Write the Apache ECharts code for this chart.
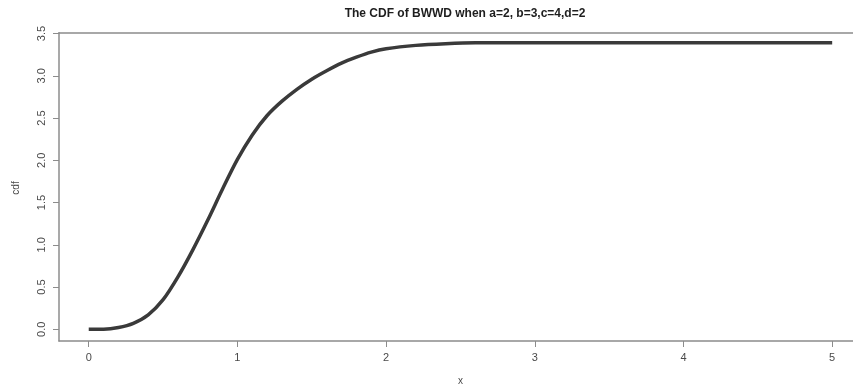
<!DOCTYPE html>
<html>
<head>
<meta charset="utf-8">
<script src="https://cdn.jsdelivr.net/npm/echarts@6/dist/echarts.min.js"></script>
<style>
  html, body { margin: 0; padding: 0; background: #fff; }
  #chart { width: 853px; height: 389px; }
</style>
</head>
<body>
<div id="chart"></div>
<script>
// values (x, cdf)
const xs = [0, 0.1, 0.2, 0.3, 0.4, 0.5, 0.6, 0.7, 0.8, 0.9, 1.0, 1.1, 1.2, 1.3, 1.4, 1.5,
  1.6, 1.7, 1.8, 1.9, 2.0, 2.2, 2.4, 2.6, 3.0, 3.5, 4.0, 4.5, 5.0]
const cdf = [0, 0.0, 0.02, 0.07, 0.17, 0.35, 0.62, 0.94, 1.29, 1.66, 2.01, 2.30, 2.53, 2.70,
  2.84, 2.96, 3.06, 3.15, 3.22, 3.28, 3.32, 3.36, 3.38, 3.39, 3.39, 3.39, 3.39, 3.39, 3.39]
const xTicks = [0, 1, 2, 3, 4, 5]
const yTicks = [0, 0.5, 1, 1.5, 2, 2.5, 3, 3.5]

const AXIS = '#8c8c8c'
const TEXT = '#4a4a4a'
const FONT = '"Liberation Sans", Arial, sans-serif'

const chart = echarts.init(document.getElementById('chart'), null, { renderer: 'canvas' })

// plot box runs off the right edge of the picture, so only left/top/bottom lines
const line = { show: true, onZero: false, lineStyle: { color: AXIS, width: 1.5 } }

chart.setOption({
  animation: false,
  backgroundColor: '#fff',
  textStyle: { fontFamily: FONT },
  title: {
    text: 'The CDF of BWWD when a=2, b=3,c=4,d=2',
    left: 460,
    top: 3,
    textAlign: 'center',
    textStyle: { fontSize: 12, fontWeight: 'bold', color: '#1e1e1e', fontFamily: FONT },
  },
  grid: { left: 59, top: 32.7, right: 0, bottom: 48, show: false },
  xAxis: [
    {
      type: 'value',
      min: -0.2, max: 5.14,
      axisLine: line,
      axisTick: { show: true, length: 6, customValues: xTicks, lineStyle: { color: AXIS } },
      axisLabel: {
        customValues: xTicks, margin: 11, fontSize: 11, color: TEXT,
        formatter: (v) => String(v),
      },
      splitLine: { show: false },
    },
    {
      type: 'value', position: 'top',
      min: -0.2, max: 5.14,
      axisLine: line,
      axisTick: { show: false },
      axisLabel: { show: false },
      splitLine: { show: false },
    },
  ],
  yAxis: {
    type: 'value',
    min: -0.139, max: 3.51,
    axisLine: line,
    axisTick: { show: true, length: 6, customValues: yTicks, lineStyle: { color: AXIS } },
    axisLabel: {
      customValues: yTicks, rotate: 90, margin: 12, fontSize: 11, color: TEXT,
      formatter: (v) => v.toFixed(1),
    },
    splitLine: { show: false },
  },
  graphic: [
    {
      type: 'text', x: 460.5, y: 381,
      style: { text: 'x', fill: TEXT, align: 'center', verticalAlign: 'middle', font: '10px ' + FONT },
    },
    {
      type: 'text', x: 16, y: 188, rotation: Math.PI / 2,
      style: { text: 'cdf', fill: TEXT, align: 'center', verticalAlign: 'middle', font: '10px ' + FONT },
    },
  ],
  series: [
    {
      type: 'line',
      xAxisIndex: 0,
      data: xs.map((x, i) => [x, cdf[i]]),
      smooth: 0.3,
      showSymbol: false,
      lineStyle: { color: '#3a3a3a', width: 3.5 },
    },
  ],
})
</script>
</body>
</html>
